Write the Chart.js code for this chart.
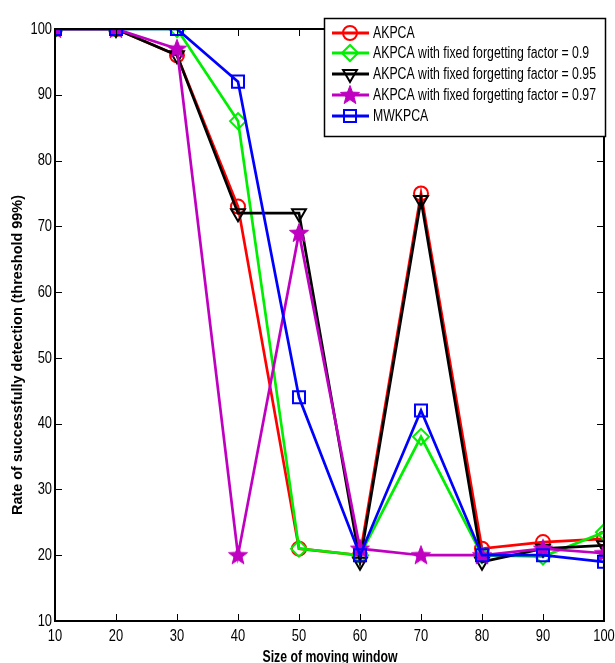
<!DOCTYPE html>
<html>
<head>
<meta charset="utf-8">
<script src="https://cdn.jsdelivr.net/npm/chart.js@4.4.0/dist/chart.umd.min.js"></script>
<style>
html, body { margin: 0; padding: 0; background: #fff; }
#wrap { position: relative; width: 615px; height: 663px; }
</style>
</head>
<body>
<div id="wrap"><canvas id="chart" width="615" height="663"></canvas></div>
<script>
// data
const windowSizes = [10, 20, 30, 40, 50, 60, 70, 80, 90, 100];
const akpca    = [100, 100, 96, 73, 21, 20, 75, 21, 22, 22.5];
const akpca09  = [100, 100, 100, 86, 21, 20, 38, 20, 19.8, 23.5];
const akpca095 = [100, 100, 96, 72, 72, 19, 74, 19, 21, 21.5];
const akpca097 = [100, 100, 97, 20, 69, 21, 20, 20, 21, 20.3];
const mwkpca   = [100, 100, 100, 92, 44, 20, 42, 20, 20, 19];
const seriesNames = [
  'AKPCA',
  'AKPCA with fixed forgetting factor = 0.9',
  'AKPCA with fixed forgetting factor = 0.95',
  'AKPCA with fixed forgetting factor = 0.97',
  'MWKPCA'
];
const xTicks = [10, 20, 30, 40, 50, 60, 70, 80, 90, 100];
const yTicks = [10, 20, 30, 40, 50, 60, 70, 80, 90, 100];
const xTitle = 'Size of moving window';
const yTitle = 'Rate of successfully detection (threshold 99%)';

const FONT = "'Liberation Sans', Arial, sans-serif";

// filled pentagram marker (like matlab 'p')
function makeStar(color) {
  const c = document.createElement('canvas');
  c.width = 22; c.height = 22;
  const g = c.getContext('2d');
  g.beginPath();
  for (let i = 0; i < 10; i++) {
    const r = i % 2 === 0 ? 10 : 4.2;
    const a = -Math.PI / 2 + i * Math.PI / 5;
    const px = 11 + r * Math.cos(a), py = 11.5 + r * Math.sin(a);
    if (i === 0) g.moveTo(px, py); else g.lineTo(px, py);
  }
  g.closePath();
  g.fillStyle = color;
  g.fill();
  g.lineWidth = 1;
  g.strokeStyle = color;
  g.stroke();
  return c;
}
const starImg = makeStar('#c000c0');

const toPts = arr => windowSizes.map((x, i) => ({ x: x, y: arr[i] }));

const styles = [
  { data: akpca,    color: '#ff0000', point: 'circle',   rot: 0,   r: 7 },
  { data: akpca09,  color: '#00ee00', point: 'rectRot',  rot: 0,   r: 8 },
  { data: akpca095, color: '#000000', point: 'triangle', rot: 180, r: 8 },
  { data: akpca097, color: '#c000c0', point: starImg,    rot: 0,   r: 8 },
  { data: mwkpca,   color: '#0000ff', point: 'rect',     rot: 0,   r: 8.5 }
];

const datasets = styles.map((s, i) => ({
  label: seriesNames[i],
  data: toPts(s.data),
  borderColor: s.color,
  backgroundColor: 'rgba(0,0,0,0)',
  pointBorderColor: s.color,
  pointBackgroundColor: 'rgba(0,0,0,0)',
  pointStyle: s.point,
  pointRotation: s.rot,
  pointRadius: s.r,
  pointBorderWidth: 2,
  borderWidth: 2.7,
  tension: 0,
  order: 5 - i
}));

// text squeezed horizontally, the figure uses a condensed helvetica
function narrowText(ctx, text, x, y, sx) {
  ctx.save();
  ctx.translate(x, y);
  ctx.scale(sx, 1);
  ctx.fillText(text, 0, 0);
  ctx.restore();
}

// inward ticks + full box, like matlab axes
const boxPlugin = {
  id: 'box',
  afterDatasetsDraw(chart) {
    const { ctx, chartArea: a, scales } = chart;
    ctx.save();
    ctx.strokeStyle = '#000';
    ctx.lineWidth = 2;
    ctx.strokeRect(a.left, a.top, a.right - a.left, a.bottom - a.top);
    ctx.lineWidth = 1;
    ctx.beginPath();
    xTicks.forEach(v => {
      const px = Math.round(scales.x.getPixelForValue(v)) + 0.5;
      ctx.moveTo(px, a.bottom); ctx.lineTo(px, a.bottom - 7);
      ctx.moveTo(px, a.top); ctx.lineTo(px, a.top + 7);
    });
    yTicks.forEach(v => {
      const py = Math.round(scales.y.getPixelForValue(v)) + 0.5;
      ctx.moveTo(a.left, py); ctx.lineTo(a.left + 7, py);
      ctx.moveTo(a.right, py); ctx.lineTo(a.right - 7, py);
    });
    ctx.stroke();

    // tick labels
    const ts = 0.76;
    ctx.fillStyle = '#000';
    ctx.font = '17px ' + FONT;
    ctx.textBaseline = 'middle';
    yTicks.forEach(v => {
      const py = scales.y.getPixelForValue(v);
      const w = ctx.measureText(String(v)).width * ts;
      narrowText(ctx, String(v), a.left - 3 - w, py, ts);
    });
    xTicks.forEach(v => {
      const px = scales.x.getPixelForValue(v);
      const w = ctx.measureText(String(v)).width * ts;
      narrowText(ctx, String(v), px - w / 2, a.bottom + 15, ts);
    });

    // axis titles
    ctx.font = 'bold 16px ' + FONT;
    ctx.textBaseline = 'alphabetic';
    let w = ctx.measureText(xTitle).width;
    narrowText(ctx, xTitle, (a.left + a.right) / 2 - 67, 662, 135 / w);
    ctx.save();
    ctx.translate(18, 355);
    ctx.rotate(-Math.PI / 2);
    ctx.font = 'bold 14px ' + FONT;
    ctx.textBaseline = 'middle';
    w = ctx.measureText(yTitle).width;
    narrowText(ctx, yTitle, -160, 0, 320 / w);
    ctx.restore();
    ctx.restore();
  },
  afterDraw(chart) {
    // legend box top right
    const ctx = chart.ctx;
    const lx = 324, ly = 18, lw = 281, lh = 118;
    ctx.save();
    ctx.fillStyle = '#fff';
    ctx.fillRect(lx, ly, lw, lh);
    ctx.strokeStyle = '#000';
    ctx.lineWidth = 1.5;
    ctx.strokeRect(lx + 0.5, ly + 0.5, lw, lh);
    ctx.font = '16px ' + FONT;
    ctx.textBaseline = 'middle';
    const longest = ctx.measureText(seriesNames[2]).width;
    const sx = 223 / longest;
    const rows = [33, 53, 74, 95, 116];
    styles.forEach((s, i) => {
      const y = rows[i];
      ctx.strokeStyle = s.color;
      ctx.lineWidth = 3;
      ctx.beginPath();
      ctx.moveTo(332, y); ctx.lineTo(369, y);
      ctx.stroke();
      ctx.lineWidth = 2;
      ctx.fillStyle = 'rgba(0,0,0,0)';
      Chart.helpers.drawPoint(ctx, {
        pointStyle: s.point, rotation: s.rot, radius: s.r, borderWidth: 2
      }, 350, y);
      ctx.fillStyle = '#000';
      narrowText(ctx, seriesNames[i], 373, y + 1, sx);
    });
    ctx.restore();
  }
};

new Chart(document.getElementById('chart'), {
  type: 'line',
  data: { datasets: datasets },
  options: {
    responsive: false,
    animation: false,
    devicePixelRatio: 1,
    layout: { padding: { top: 29, right: 11, left: 0, bottom: 0 } },
    plugins: { legend: { display: false }, tooltip: { enabled: false } },
    scales: {
      x: {
        type: 'linear',
        min: 10, max: 100,
        afterBuildTicks: s => { s.ticks = xTicks.map(v => ({ value: v })); },
        afterFit: s => { s.height = 42; s.paddingLeft = 0; s.paddingRight = 0; },
        grid: { display: false, drawTicks: false },
        border: { display: false },
        ticks: { display: false }
      },
      y: {
        min: 10, max: 100,
        afterBuildTicks: s => { s.ticks = yTicks.map(v => ({ value: v })); },
        afterFit: s => { s.width = 55; s.paddingTop = 0; s.paddingBottom = 0; },
        grid: { display: false, drawTicks: false },
        border: { display: false },
        ticks: { display: false }
      }
    }
  },
  plugins: [boxPlugin]
});
</script>
</body>
</html>
